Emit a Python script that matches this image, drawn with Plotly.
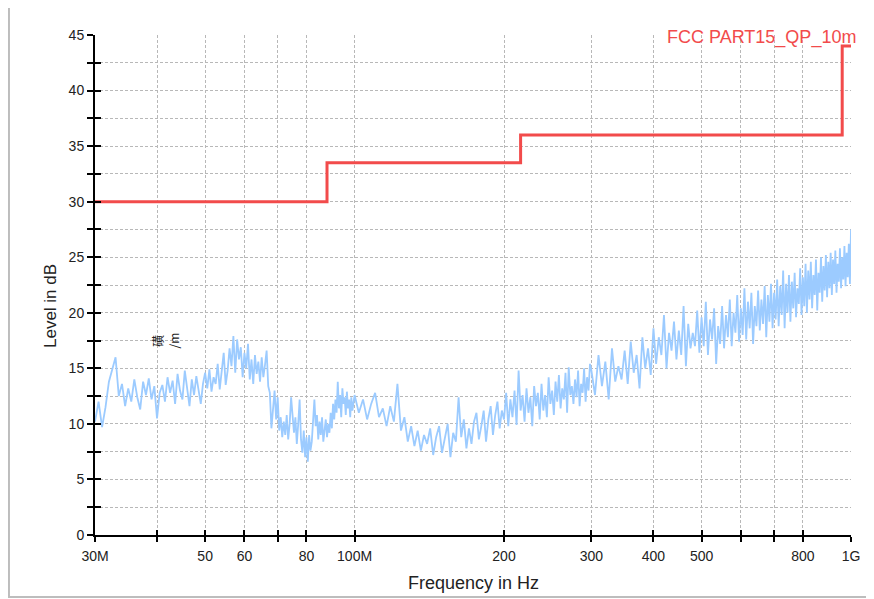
import numpy as np
import plotly.graph_objects as go

freq_low_mhz = np.arange(30.0, 100.0, 0.5)
level_low = [
    10.2, 12.0, 9.7, 11.5, 13.8, 14.8, 16.0, 12.5, 13.6, 11.6,
    13.2, 12.0, 14.0, 12.4, 11.3, 13.8, 12.6, 14.1, 12.2, 13.4,
    10.5, 12.8, 13.5, 12.0, 14.2, 12.8, 13.9, 11.8, 14.5, 13.0,
    12.2, 14.8, 13.4, 11.6, 14.0, 12.6, 14.3, 13.2, 11.8, 13.6,
    14.6, 13.2, 14.9, 12.9, 14.2, 13.6, 15.4, 13.1, 14.5, 16.4,
    13.5, 14.8, 16.8, 15.2, 17.9, 14.6, 17.6, 15.8, 16.9, 14.2,
    16.4, 15.0, 17.2, 14.0, 15.8, 13.6, 16.2, 14.5, 15.6, 13.8,
    16.0, 14.2, 15.3, 16.6, 13.4, 12.8, 9.6, 11.8, 13.0, 10.4,
    12.4, 9.4, 10.6, 8.8, 10.2, 9.0, 10.8, 8.6, 10.0, 12.4,
    11.0, 9.2, 10.6, 8.2, 10.0, 12.2, 8.6, 7.4, 9.4, 7.0,
    8.8, 6.6, 9.0, 7.6, 8.4, 10.6, 12.2, 9.8, 10.8, 8.6,
    10.2, 9.0, 10.6, 8.4, 9.6, 10.4, 8.8, 10.0, 9.2, 11.0,
    9.6, 11.8, 10.4, 12.2, 11.0, 13.8, 11.4, 12.6, 10.6, 13.2,
    11.8, 12.4, 10.8, 12.9, 11.4, 12.2, 10.6, 12.4, 11.2, 12.0,
]

freq_mid_mhz = np.arange(100.0, 300.0, 2.0)
level_mid = [
    12.6, 11.0, 12.2, 10.4, 11.8, 12.8, 10.6, 11.4, 9.8, 11.6,
    10.2, 13.6, 9.4, 10.6, 8.4, 9.8, 8.0, 9.4, 7.6, 9.0,
    8.2, 9.6, 7.2, 8.8, 9.8, 7.4, 8.6, 10.0, 7.0, 9.2,
    8.4, 12.4, 8.8, 10.4, 7.8, 9.6, 8.2, 10.2, 11.0, 8.6,
    9.8, 11.2, 8.4, 10.4, 11.6, 9.0, 10.8, 12.0, 9.6, 11.2,
    10.4, 12.8, 9.8, 12.2, 10.6, 13.0, 9.9, 14.8, 11.2, 12.6,
    10.2, 13.2, 11.0, 12.4, 9.8, 13.4, 11.6, 12.8, 10.4, 13.6,
    11.2, 12.6, 10.6, 14.2, 11.8, 13.0, 10.8, 13.8, 12.0, 14.4,
    11.4, 13.2, 12.2, 14.6, 11.0, 15.1, 12.6, 13.4, 11.8, 14.0,
    12.4, 14.8, 11.6, 13.6, 12.8, 15.0, 12.0, 14.2, 13.0, 15.4,
]

freq_high_mhz = np.arange(300.0, 1000.1, 5.0)
level_high = [
    14.8, 12.6, 16.2, 13.4, 15.6, 12.2, 16.8, 13.8, 15.2, 14.0,
    16.6, 13.6, 17.4, 14.6, 16.2, 13.2, 17.8, 15.0, 16.8, 14.4,
    18.6, 15.4, 17.8, 16.2, 19.8, 15.0, 18.2, 16.6, 19.2, 15.8,
    18.4, 16.2, 20.6, 15.2, 19.0, 16.8, 18.2, 17.0, 20.2, 16.4,
    19.6, 17.0, 21.0, 16.2, 19.4, 17.6, 20.4, 15.4, 18.8, 17.2,
    20.6, 16.8, 19.8, 17.8, 21.2, 17.0, 20.0, 18.2, 21.6, 17.4,
    20.4, 18.0, 22.2, 17.6, 21.0, 18.6, 21.8, 17.2, 20.6, 18.8,
    22.0, 18.4, 21.2, 19.0, 22.4, 17.8, 21.6, 19.2, 22.6, 18.6,
    21.8, 19.4, 23.0, 18.8, 22.4, 19.8, 23.8, 18.6, 22.6, 20.0,
    23.4, 19.2, 22.8, 20.4, 23.6, 19.6, 22.2, 20.8, 24.0, 19.8,
    23.2, 20.6, 24.4, 20.0, 23.8, 21.2, 24.6, 20.4, 23.4, 21.6,
    24.8, 20.2, 23.6, 21.8, 25.0, 21.0, 24.2, 22.0, 25.2, 21.4,
    24.6, 22.2, 25.4, 21.6, 24.8, 22.6, 25.6, 21.8, 24.4, 22.8,
    25.8, 22.2, 25.0, 23.0, 26.0, 22.4, 25.4, 23.2, 26.2, 22.6,
    27.5,
]

# ---- limit line ----
limit_name = "FCC PART15_QP_10m"
limit_freq_mhz = [30, 88, 216, 960, 1000]
limit_level = [30, 33.5, 36, 44, 44]

# ---- axis ticks ----
x_tick_vals = [30, 40, 50, 60, 70, 80, 100, 200, 300, 400, 500, 600, 700, 800, 1000]
x_tick_text = ["30M", "", "50", "60", "", "80", "100M", "200", "300", "400", "500", "", "", "800", "1G"]
y_tick_vals = [i * 2.5 for i in range(19)]
y_tick_text = [str(int(v)) if v % 5 == 0 else "" for v in y_tick_vals]

freq = np.concatenate([freq_low_mhz[:len(level_low)], freq_mid_mhz[:len(level_mid)],
                       freq_high_mhz[:len(level_high)]])
level = level_low[:len(freq_low_mhz)] + level_mid[:len(freq_mid_mhz)] + level_high[:len(freq_high_mhz)]

FONT = "Liberation Sans, Arial, sans-serif"
GRID = "#b8b8b8"
XR = [np.log10(30), 3]
YR = [0, 45]

fig = go.Figure()
fig.add_trace(go.Scatter(x=freq, y=level, mode="lines",
                         line=dict(color="#9ccbff", width=1.8),
                         showlegend=False, hoverinfo="skip"))
fig.add_trace(go.Scatter(x=limit_freq_mhz, y=limit_level, mode="lines",
                         line=dict(color="#f24b4b", width=3, shape="hv"),
                         xaxis="x2", yaxis="y2", showlegend=False, hoverinfo="skip"))

common_x = dict(type="log", range=XR, tickmode="array", tickvals=x_tick_vals,
                tickwidth=2, tickcolor="black", ticklen=5, zeroline=False)
common_y = dict(range=YR, tickmode="array", tickvals=y_tick_vals,
                tickwidth=2, tickcolor="black", ticklen=6, zeroline=False)

fig.update_layout(
    width=866, height=591,
    margin=dict(l=87, r=23, t=27, b=64),
    paper_bgcolor="white", plot_bgcolor="white",
    font=dict(family=FONT, size=14, color="#222222"),
    xaxis=dict(**common_x, ticktext=x_tick_text, ticks="outside",
               showline=True, linecolor="black", linewidth=2,
               showgrid=True, gridcolor=GRID, gridwidth=1, griddash="3px,2px",
               tickfont=dict(family=FONT, size=14, color="#222222"),
               ticklabelstandoff=2, automargin=False),
    xaxis2=dict(**common_x, overlaying="x", anchor="y2", side="bottom", ticks="inside",
                showticklabels=False, showgrid=False, showline=False),
    yaxis=dict(**common_y, ticktext=y_tick_text, ticks="outside",
               showline=True, linecolor="black", linewidth=2,
               showgrid=True, gridcolor=GRID, gridwidth=1, griddash="3px,2px",
               tickfont=dict(family=FONT, size=14, color="#222222"), automargin=False),
    yaxis2=dict(**common_y, overlaying="y", anchor="x2", side="left", ticks="inside",
                showticklabels=False, showgrid=False, showline=False),
    shapes=[dict(type="rect", xref="paper", yref="paper",
                 x0=-0.1138, x1=1.05, y0=-0.124, y1=1.058,
                 line=dict(color="#bdbdbd", width=2), layer="below")],
    annotations=[
        dict(text="Level in dB", xref="paper", yref="paper", x=-0.0595, y=0.458,
             xanchor="center", yanchor="middle",
             textangle=-90, showarrow=False, font=dict(family=FONT, size=17, color="#222222")),
        dict(text="Frequency in Hz", xref="paper", yref="paper", x=0.5, y=-0.096,
             xanchor="center", yanchor="middle",
             showarrow=False, font=dict(family=FONT, size=18, color="#222222")),
        dict(text=limit_name, xref="paper", yref="paper", x=1, y=1, xanchor="right",
             yanchor="middle", xshift=7, yshift=-2, showarrow=False,
             font=dict(family=FONT, size=18, color="#f24b4b")),
        dict(text="磺<br>/m", xref="x", yref="y", x=np.log10(41.7), y=17.5,
             textangle=-90, showarrow=False,
             font=dict(family="Noto Sans CJK SC, " + FONT, size=12, color="#222222")),
    ],
)

fig.write_html("out.html")
